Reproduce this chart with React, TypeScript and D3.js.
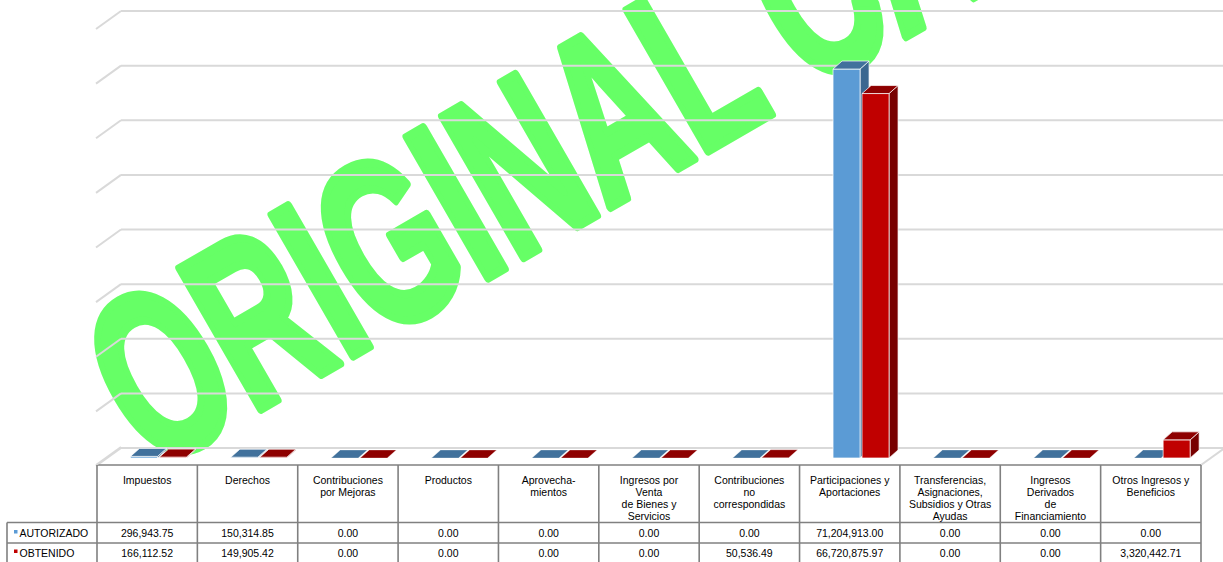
import React from "react";
import * as d3 from "d3";

// categories as printed in the table header (one entry per line)
const categories: string[][] = [
  ["Impuestos"],
  ["Derechos"],
  ["Contribuciones", "por Mejoras"],
  ["Productos"],
  ["Aprovecha-", "mientos"],
  ["Ingresos por", "Venta", "de Bienes y", "Servicios"],
  ["Contribuciones", "no", "correspondidas"],
  ["Participaciones y", "Aportaciones"],
  ["Transferencias,", "Asignaciones,", "Subsidios y Otras", "Ayudas"],
  ["Ingresos", "Derivados", "de", "Financiamiento"],
  ["Otros Ingresos y", "Beneficios"],
];

const autorizado = [296943.75, 150314.85, 0, 0, 0, 0, 0, 71204913.0, 0, 0, 0];
const obtenido = [166112.52, 149905.42, 0, 0, 0, 0, 50536.49, 66720875.97, 0, 0, 3320442.71];

const gridValues = d3.range(0, 80000001, 10000000);

const W = 1223;
const H = 562;
const font = "'Liberation Sans', Arial, sans-serif";

const series = [
  { name: "AUTORIZADO", values: autorizado, front: "#5B9BD5", top: "#41719C", side: "#3B6790" },
  { name: "OBTENIDO", values: obtenido, front: "#C00000", top: "#8E0000", side: "#780000" },
];

export default function App() {
  // back wall
  const wallLeft = 121;
  const depth = { dx: 25, dy: -18 };
  const y = d3.scaleLinear().domain([0, 80000000]).range([448, 11]);

  // front / table
  const x = d3.scaleBand<number>().domain(d3.range(categories.length)).range([97, 1201]);
  const bw = 27;
  const barOffset = 33.5;
  const barDrop = 10; // front plane of bars below back wall floor
  const bd = { dx: 9, dy: -8 }; // bar depth

  const tableTop = 465;
  const headBottom = 522.5;
  const rowMid = 543;
  const tableBottom = 563;
  const fmt = d3.format(",.2f");
  const gridColor = "#D9D9D9";
  const border = "#808080";

  return (
    <svg
      width={W}
      height={H}
      style={{ position: "absolute", left: 0, top: 0, background: "#fff" }}
      fontFamily={font}
    >
      {/* watermark */}
      <text
        transform="translate(152,472) rotate(-30) scale(0.625,1)"
        fontSize={236}
        fontWeight="bold"
        fill="#66FF66"
        stroke="#66FF66"
        strokeWidth={9}
        strokeLinejoin="round"
        fontFamily={font}
      >
        ORIGINAL CANCELADO
      </text>

      {/* gridlines on back and left walls */}
      {gridValues.map((v) => (
        <g key={v} stroke={gridColor} strokeWidth={2} fill="none">
          <line x1={wallLeft} x2={W} y1={y(v)} y2={y(v)} />
          <line x1={wallLeft - depth.dx} y1={y(v) - depth.dy} x2={wallLeft} y2={y(v)} />
        </g>
      ))}
      {/* floor right edge */}
      <line
        x1={1201}
        y1={tableTop}
        x2={1201 + depth.dx}
        y2={tableTop + depth.dy}
        stroke={gridColor}
        strokeWidth={2}
      />

      {/* bars */}
      {categories.map((_, i) =>
        series.map((s, si) => {
          const v = s.values[i];
          const x0 = (x(i) as number) + barOffset + si * (bw + 2);
          const x1 = x0 + bw;
          const yb = y(0) + barDrop;
          const yt = y(v) + barDrop;
          const topPts = [
            [x0, yt],
            [x0 + bd.dx, yt + bd.dy],
            [x1 + bd.dx, yt + bd.dy],
            [x1, yt],
          ];
          const sidePts = [
            [x1, yt],
            [x1 + bd.dx, yt + bd.dy],
            [x1 + bd.dx, yb + bd.dy],
            [x1, yb],
          ];
          const pts = (p: number[][]) => p.map((d) => d.join(",")).join(" ");
          const h = yb - yt;
          return (
            <g key={`${i}-${si}`} stroke="#ffffff" strokeOpacity={0.7} strokeWidth={1} strokeLinejoin="round">
              {h > 0.5 && <polygon points={pts(sidePts)} fill={s.side} />}
              {h > 0.5 && <rect x={x0} y={yt} width={bw} height={h} fill={s.front} />}
              <polygon points={pts(topPts)} fill={s.top} strokeOpacity={h > 0.5 ? 0.7 : 0.3} />
            </g>
          );
        })
      )}

      {/* table */}
      <g stroke={border} strokeWidth={1.6} fill="none">
        <line x1={97} x2={1201} y1={tableTop} y2={tableTop} />
        <line x1={wallLeft - depth.dx} y1={tableTop} x2={wallLeft} y2={tableTop + depth.dy} stroke={gridColor} strokeWidth={2} />
        <line x1={7} x2={1201} y1={headBottom} y2={headBottom} />
        <line x1={7} x2={1201} y1={rowMid} y2={rowMid} />
        <line x1={7} x2={1201} y1={tableBottom} y2={tableBottom} />
        <line x1={7} x2={7} y1={headBottom} y2={tableBottom} />
        {d3.range(categories.length + 1).map((i) => {
          const xx = i < categories.length ? (x(i) as number) : x.range()[1];
          return <line key={i} x1={xx} x2={xx} y1={tableTop} y2={tableBottom} />;
        })}
      </g>

      <g fontSize={10.5} fill="#000" textAnchor="middle">
        {categories.map((lines, i) => (
          <text key={i} x={(x(i) as number) + x.bandwidth() / 2} y={484}>
            {lines.map((l, li) => (
              <tspan key={li} x={(x(i) as number) + x.bandwidth() / 2} dy={li === 0 ? 0 : 12}>
                {l}
              </tspan>
            ))}
          </text>
        ))}
        {series.map((s, si) =>
          s.values.map((v, i) => (
            <text key={`${si}-${i}`} x={(x(i) as number) + x.bandwidth() / 2} y={si === 0 ? 537 : 556.5}>
              {fmt(v)}
            </text>
          ))
        )}
      </g>

      {/* legend cells */}
      {series.map((s, si) => (
        <g key={s.name}>
          <rect x={14} y={si === 0 ? 530 : 549.5} width={3.5} height={3.5} fill={s.front} />
          <text x={19.5} y={si === 0 ? 537 : 556.5} fontSize={10.5} fill="#000">
            {s.name}
          </text>
        </g>
      ))}
    </svg>
  );
}
